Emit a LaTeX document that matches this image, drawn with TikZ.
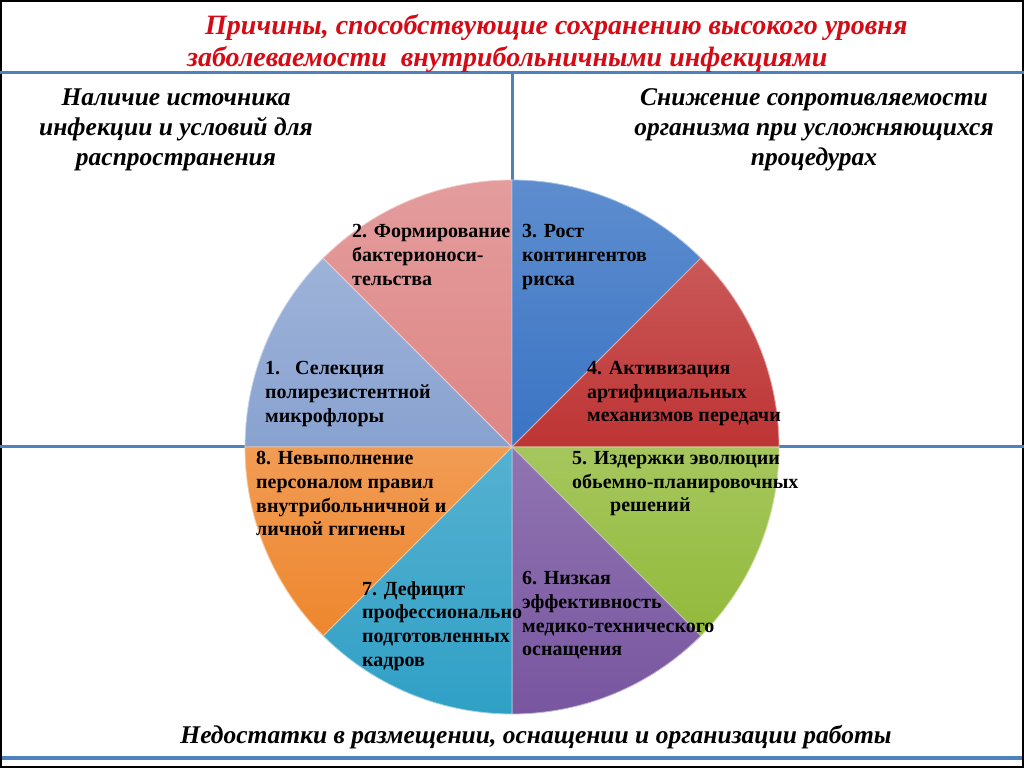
\documentclass[tikz,border=0pt]{standalone}
\usepackage{fontspec}
\setmainfont{Liberation Serif}
\usetikzlibrary{positioning}

\definecolor{lineblue}{RGB}{79,129,189}
\definecolor{titlered}{RGB}{214,10,20}
\definecolor{sone}{RGB}{136,162,208}
\definecolor{stwo}{RGB}{222,134,134}
\definecolor{sthree}{RGB}{58,116,196}
\definecolor{sfour}{RGB}{190,52,52}
\definecolor{sfive}{RGB}{146,186,58}
\definecolor{ssix}{RGB}{120,86,160}
\definecolor{sseven}{RGB}{48,160,198}
\definecolor{seight}{RGB}{238,134,46}

\begin{document}
\begin{tikzpicture}[x=1pt,y=1pt,
    sector/.style={top color=#1!82!white, bottom color=#1, draw=white!55!#1, line width=0.8pt},
    slicetext/.style={font=\fontsize{20}{23.8}\selectfont\bfseries, align=left,
                      anchor=north west, inner sep=0pt},
    heading/.style={font=\fontsize{25.5}{30}\selectfont\bfseries\itshape, align=center, inner sep=0pt},
    rule/.style={draw=lineblue, line width=3pt}]

\useasboundingbox (0,0) rectangle (1024,768);

% frame and dividing lines
\draw[line width=2pt] (1,1) rectangle (1023,767);
\draw[rule] (0,695) -- (1024,695);
\draw[rule] (512,695) -- (512,321);
\draw[rule] (0,321) -- (1024,321);
\draw[draw=lineblue, line width=4pt] (2,10) -- (1022,10);

% pie
\coordinate (c) at (512,321);
\foreach \col [count=\i] in {sone,stwo,sthree,sfour,sfive,ssix,sseven,seight}
  \draw[sector=\col] (c) -- ++({225-45*\i}:267) arc ({225-45*\i}:{180-45*\i}:267) -- cycle;

% title
\node[font=\fontsize{28}{32}\selectfont\bfseries\itshape, text=titlered,
      align=left, anchor=north west, inner sep=0pt] (title) at (187,754)
  {\hspace*{18pt}Причины, способствующие сохранению высокого уровня\\
   заболеваемости \ внутрибольничными инфекциями};

% quadrant headings
\node[heading] (source) at (176,638) {Наличие источника\\инфекции и условий для\\распространения};
\node[heading] (resist) at (814,638) {Снижение сопротивляемости\\организма при усложняющихся\\процедурах};
\node[heading] (work) at (536,31) {Недостатки в размещении, оснащении и организации работы};

% slice labels
\node[slicetext] (t1) at (265,407) {1.\ \ \ Селекция\\полирезистентной\\микрофлоры};
\node[slicetext] (t2) at (352,544) {2. Формирование\\бактерионоси-\\тельства};
\node[slicetext] (t3) at (522,544) {3. Рост\\контингентов\\риска};
\node[slicetext] (t4) at (587,407) {4. Активизация\\артифициальных\\механизмов передачи};
\node[slicetext] (t5) at (572,317) {5. Издержки эволюции\\обьемно-планировочных\\\hspace*{38pt}решений};
\node[slicetext] (t6) at (522,197) {6. Низкая\\эффективность\\медико-технического\\оснащения};
\node[slicetext] (t7) at (362,187) {7. Дефицит\\профессионально\\подготовленных\\кадров};
\node[slicetext] (t8) at (256,317) {8. Невыполнение\\персоналом правил\\внутрибольничной и\\личной гигиены};
\end{tikzpicture}
\end{document}
